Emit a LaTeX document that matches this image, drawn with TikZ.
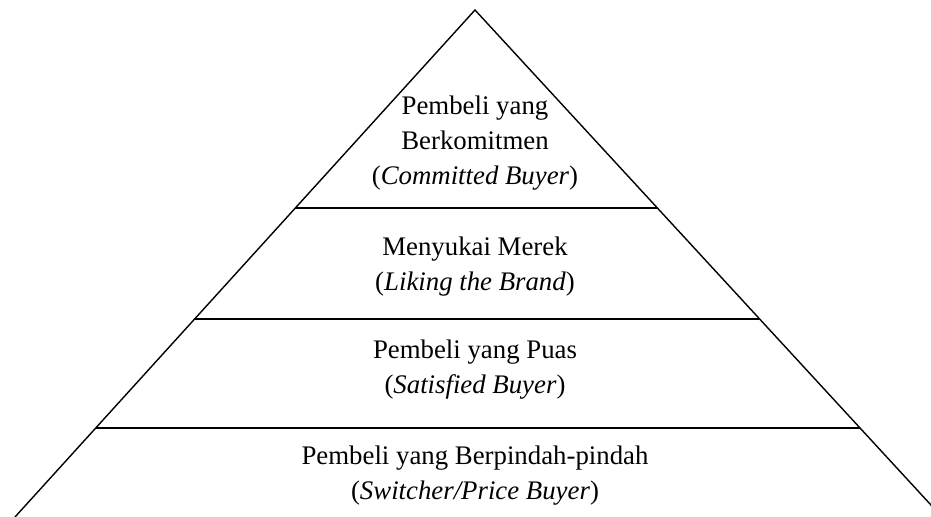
\documentclass[tikz,border=0pt]{standalone}
\usepackage{fontspec}
\setmainfont{Liberation Serif}
\usetikzlibrary{positioning}

\begin{document}
\begin{tikzpicture}[
	x=0.5pt, y=-0.5pt,
	tier/.style={align=center, font=\fontsize{13.4}{17.5}\selectfont, inner sep=0pt, anchor=base},
	edge/.style={line width=0.7pt, line join=miter}
	]
	\clip (0,0) rectangle (931,517);
	% outline of the pyramid
	\coordinate (apex) at (475,10);
	\coordinate (bl) at (15,517);
	\coordinate (br) at (942,517);
	\draw[edge] (bl) -- (apex) -- (br);
	% tier borders
	\coordinate (t1l) at (295,208); \coordinate (t1r) at (657,208);
	\coordinate (t2l) at (194,319); \coordinate (t2r) at (759,319);
	\coordinate (t3l) at (96,428);  \coordinate (t3r) at (860,428);
	\draw[edge] (t1l) -- (t1r);
	\draw[edge] (t2l) -- (t2r);
	\draw[edge] (t3l) -- (t3r);
	% labels
	\node[tier] (committed) at (475,185) {Pembeli yang\\Berkomitmen\\(\textit{Committed Buyer})};
	\node[tier] (liking) at (475,291) {Menyukai Merek\\(\textit{Liking the Brand})};
	\node[tier] (satisfied) at (475,394) {Pembeli yang Puas\\(\textit{Satisfied Buyer})};
	\node[tier] (switcher) at (475,500) {Pembeli yang Berpindah-pindah\\(\textit{Switcher/Price Buyer})};
\end{tikzpicture}
\end{document}
